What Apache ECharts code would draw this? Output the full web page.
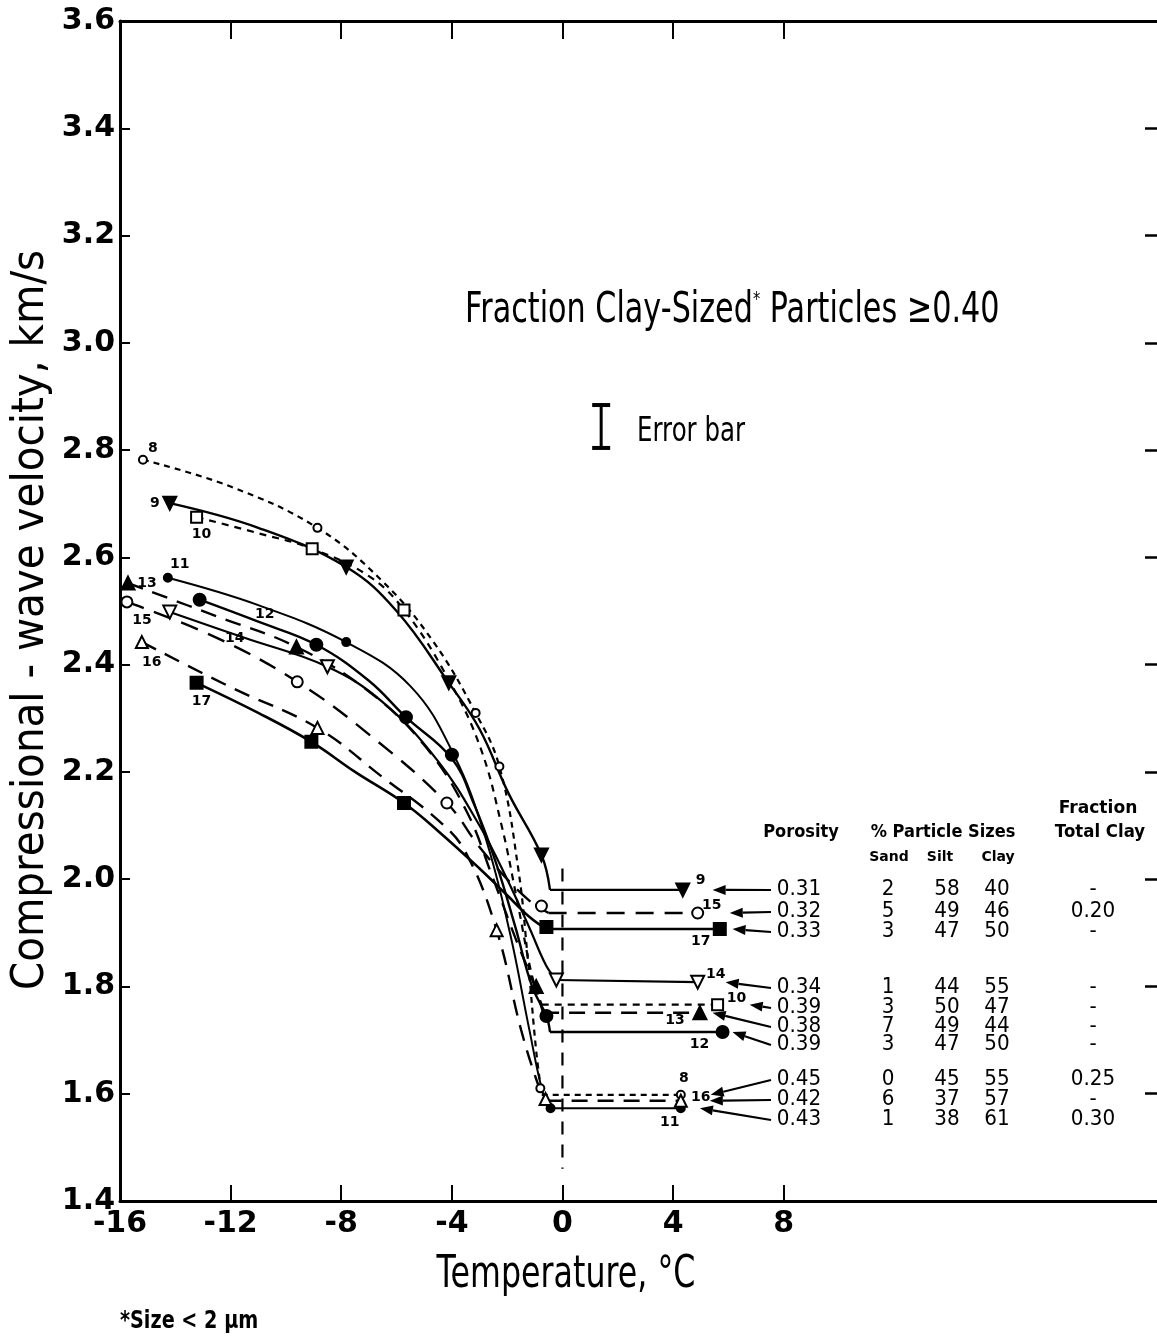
<!DOCTYPE html>
<html><head><meta charset="utf-8">
<script src="https://cdn.jsdelivr.net/npm/echarts@6/dist/echarts.min.js"></script>
<style>html,body{margin:0;padding:0;background:#fff}#c{width:1157px;height:1342px}</style>
</head><body><div id="c"></div>
<script>
// ---------------- data ----------------
const xTickValues = [-16, -12, -8, -4, 0, 4, 8];
const xMin = -16, xMax = 21.5;
const yMin = 1.4, yMax = 3.6, yStep = 0.2;

// curves: [temperature °C, velocity km/s]; last two points = plateau
const s8  = [[-15.17,2.782],[-12,2.732],[-8.86,2.655],[-6.5,2.555],[-4.7,2.445],[-3.14,2.31],[-2.28,2.21],[-1.6,2.02],[-1.25,1.85],[-0.95,1.68],[-0.75,1.598],[4.28,1.598]];
const s8Marks  = [[-15.17,2.782],[-8.86,2.655],[-3.14,2.31],[-2.28,2.21],[-0.8,1.61],[4.28,1.598]];
const s9  = [[-14.2,2.701],[-11,2.655],[-7.82,2.582],[-6,2.50],[-4.11,2.366],[-3,2.28],[-1.95,2.16],[-0.76,2.045],[-0.45,1.98],[4.35,1.98]];
const s9Marks  = [[-14.2,2.701],[-7.82,2.582],[-4.11,2.366],[-0.76,2.045],[4.35,1.98]];
const s10 = [[-13.23,2.675],[-11,2.645],[-9.05,2.616],[-7,2.565],[-5.73,2.502],[-4.2,2.38],[-3,2.25],[-2.2,2.1],[-1.6,1.95],[-1.1,1.82],[-0.75,1.766],[5.61,1.766]];
const s10Marks = [[-13.23,2.675],[-9.05,2.616],[-5.73,2.502],[5.61,1.766]];
const s11 = [[-14.27,2.562],[-11,2.511],[-7.82,2.442],[-5.5,2.36],[-3.93,2.232],[-2.8,2.08],[-1.9,1.9],[-1.2,1.72],[-0.7,1.6],[-0.43,1.573],[4.28,1.573]];
const s11Marks = [[-14.27,2.562],[-7.82,2.442],[-3.93,2.232],[-0.43,1.573],[4.28,1.573]];
const s12 = [[-13.12,2.521],[-11,2.48],[-8.9,2.437],[-7,2.37],[-5.66,2.302],[-4.0,2.225],[-3.2,2.14],[-2.4,2.03],[-1.7,1.91],[-1.1,1.80],[-0.58,1.745],[-0.45,1.715],[5.79,1.715]];
const s12Marks = [[-13.12,2.521],[-8.9,2.437],[-5.66,2.302],[-4.0,2.232],[-0.58,1.745],[5.79,1.715]];
const s13 = [[-15.71,2.552],[-12.5,2.49],[-9.62,2.433],[-7,2.35],[-5,2.25],[-3.5,2.13],[-2.5,2.0],[-1.7,1.89],[-1.0,1.80],[-0.7,1.751],[4.97,1.751]];
const s13Marks = [[-15.71,2.552],[-9.62,2.433],[-0.95,1.80],[4.97,1.751]];
const s14 = [[-14.2,2.498],[-11.5,2.45],[-8.5,2.396],[-6.5,2.33],[-4.5,2.22],[-3,2.1],[-2,2.0],[-1.2,1.91],[-0.6,1.84],[-0.22,1.812],[4.89,1.808]];
const s14Marks = [[-14.2,2.498],[-8.5,2.396],[-0.22,1.812],[4.89,1.808]];
const s15 = [[-15.75,2.517],[-12.5,2.45],[-9.59,2.368],[-7,2.27],[-4.18,2.142],[-3,2.06],[-2,2.0],[-1.2,1.96],[-0.76,1.945],[-0.5,1.937],[4.89,1.937]];
const s15Marks = [[-15.75,2.517],[-9.59,2.368],[-4.18,2.142],[-0.76,1.95],[4.89,1.937]];
const s16 = [[-15.21,2.442],[-12,2.358],[-8.86,2.282],[-6.5,2.19],[-4.5,2.11],[-3.5,2.05],[-2.38,1.905],[-1.5,1.72],[-0.9,1.62],[-0.61,1.587],[4.28,1.587]];
const s16Marks = [[-15.21,2.442],[-8.86,2.282],[-2.38,1.905],[-0.61,1.59],[4.28,1.587]];
const s17 = [[-13.23,2.366],[-11,2.31],[-9.08,2.256],[-7.5,2.2],[-5.73,2.142],[-4.5,2.09],[-3,2.02],[-2,1.97],[-1.2,1.93],[-0.58,1.907],[5.69,1.907]];
const s17Marks = [[-13.23,2.366],[-9.08,2.256],[-5.73,2.142],[-0.58,1.911],[5.69,1.907]];

const zeroLine = [[0,2.02],[0,1.46]];
const errorBar = [[1.4,2.804],[1.4,2.884]];

// table (row order top to bottom)
const tableSamples = ['9','15','17','14','10','13','12','8','16','11'];
const porosity  = ['0.31','0.32','0.33','0.34','0.39','0.38','0.39','0.45','0.42','0.43'];
const sandPct   = ['2','5','3','1','3','7','3','0','6','1'];
const siltPct   = ['58','49','47','44','50','49','47','45','37','38'];
const clayPct   = ['40','46','50','55','47','44','50','55','57','61'];
const totalClay = ['-','0.20','-','-','-','-','-','0.25','-','0.30'];

// ---------------- styling / layout ----------------
const FONT = '"DejaVu Sans", "Liberation Sans", sans-serif';
const samples = {'8':[s8,s8Marks],'9':[s9,s9Marks],'10':[s10,s10Marks],'11':[s11,s11Marks],'12':[s12,s12Marks],
  '13':[s13,s13Marks],'14':[s14,s14Marks],'15':[s15,s15Marks],'16':[s16,s16Marks],'17':[s17,s17Marks]};
const look = {
 '8':  {dash:[6,5],  w:2.2, sym:'emptyCircle',   size:8,  rot:0,   ls:[10,-11], le:[3,-16]},
 '9':  {dash:'solid',w:2.4, sym:'triangle',      size:13, rot:180, ls:[-15,0],  le:[18,-10]},
 '10': {dash:[7,6],  w:2.2, sym:'emptyRect',     size:11, rot:0,   ls:[5,17],   le:[19,-6]},
 '11': {dash:'solid',w:2.0, sym:'circle',        size:8,  rot:0,   ls:[12,-13], le:[-11,14]},
 '12': {dash:'solid',w:2.4, sym:'circle',        size:12, rot:0,   ls:[65,15],  le:[-23,12]},
 '13': {dash:[16,10],w:2.4, sym:'triangle',      size:13, rot:0,   ls:[19,0],   le:[-25,8]},
 '14': {dash:'solid',w:2.2, sym:'emptyTriangle', size:13, rot:180, ls:[65,26],  le:[18,-8]},
 '15': {dash:[18,11],w:2.4, sym:'emptyCircle',   size:11, rot:0,   ls:[15,18],  le:[14,-8]},
 '16': {dash:[16,10],w:2.4, sym:'emptyTriangle', size:12, rot:0,   ls:[10,20],  le:[20,-3]},
 '17': {dash:'solid',w:2.6, sym:'rect',          size:12, rot:0,   ls:[5,18],   le:[-19,12]}
};
const arrowGap = {'9':1.08,'15':1.16,'17':0.46,'14':1.01,'10':1.16,'13':0.46,'12':0.36,'8':1.08,'16':1.05,'11':0.69};
const rowY = [890,912,932,988,1008,1027,1045,1080,1100,1120];

const series = [];
Object.keys(samples).forEach(id => {
  const [pts, marks] = samples[id];
  const L = look[id];
  const lineStyle = {color:'#000', width:L.w, type:L.dash, opacity:1};
  series.push({type:'line', data:pts.slice(0,-1), smooth:0.4, symbol:'none', lineStyle, z:3, silent:true});
  series.push({type:'line', data:pts.slice(-2), symbol:'none', lineStyle, z:3, silent:true});
  const lab = (off) => ({show:true, formatter:id, position:'inside', offset:off, color:'#000', opacity:1,
      fontFamily:FONT, fontWeight:'bold', fontSize:14});
  series.push({type:'scatter', z:5, silent:true,
    symbol:L.sym, symbolSize:L.size, symbolRotate:L.rot,
    itemStyle:{color:'#000', borderColor:'#000', borderWidth:2, opacity:1},
    data: marks.map((p,i) => {
      const o = {value:p};
      if (i===0) o.label = lab(L.ls);
      else if (i===marks.length-1) o.label = lab(L.le);
      return o;
    })});
});
series.push({type:'line', data:zeroLine, symbol:'none', lineStyle:{color:'#000', width:2.2, type:[13,10]}, z:2, silent:true});
series.push({type:'line', data:errorBar, symbol:'rect', symbolSize:[18,4], itemStyle:{color:'#000', opacity:1}, lineStyle:{color:'#000', width:3}, z:2, silent:true});

const axisLineStyle = {onZero:false, lineStyle:{color:'#000', width:3}};
const option = {
  animation:false,
  backgroundColor:'#fff',
  grid:{left:120, top:21, right:-4, bottom:141, containLabel:false},
  xAxis:[
    {type:'value', min:xMin, max:xMax, position:'bottom', splitLine:{show:false},
     axisLine:axisLineStyle,
     axisTick:{inside:true, length:16, lineStyle:{color:'#000', width:2}, customValues:xTickValues},
     axisLabel:{customValues:xTickValues, color:'#000', fontFamily:FONT, fontSize:30, fontWeight:'bold', margin:8,
       formatter:v => v>8 ? '' : String(v)}},
    {type:'value', min:xMin, max:xMax, position:'top', splitLine:{show:false},
     axisLine:axisLineStyle,
     axisTick:{inside:true, length:18, lineStyle:{color:'#000', width:2}, customValues:xTickValues.slice(1)},
     axisLabel:{show:false}}
  ],
  yAxis:[
    {type:'value', min:yMin, max:yMax, interval:yStep, position:'left', splitLine:{show:false},
     axisLine:axisLineStyle,
     axisTick:{inside:true, length:10, lineStyle:{color:'#000', width:2}},
     axisLabel:{color:'#000', fontFamily:FONT, fontSize:30, fontWeight:'bold', margin:5, formatter:v => v.toFixed(1)}},
    {type:'value', min:yMin, max:yMax, interval:yStep, position:'right', splitLine:{show:false},
     axisLine:{show:false, onZero:false},
     axisTick:{inside:true, length:12, lineStyle:{color:'#000', width:2.5}},
     axisLabel:{show:false}}
  ],
  series
};

const chart = echarts.init(document.getElementById('c'));
chart.setOption(option);

// ---------------- annotations ----------------
const g = [];
function txt(text, x, y, size, opts) {
  opts = opts || {};
  g.push({type:'text', x, y, scaleX:opts.sx||1, rotation:opts.rot||0, z:10, silent:true,
    style:{text, fill:'#000', font:(opts.bold?'bold ':'')+size+'px '+FONT,
      align:opts.align||'center', verticalAlign:'middle', rich:opts.rich}});
}
txt('{a|Fraction Clay-Sized}{s|*}{a| Particles ≥0.40}', 465, 311, 42,
   {align:'left', sx:0.72, rich:{a:{fontSize:42, fontFamily:FONT, fill:'#000'}, s:{fontSize:20, fontFamily:FONT, verticalAlign:'top', padding:[0,0,22,0]}}});
txt('Error bar', 637, 432, 34, {align:'left', sx:0.72});
txt('Temperature, °C', 566, 1276, 44, {sx:0.72});
txt('Compressional - wave velocity, km/s', 32, 620, 44, {sx:0.92, rot:Math.PI/2});
txt('*Size < 2 µm', 120, 1322, 24, {align:'left', sx:0.8, bold:true});

// table headers
txt('Fraction', 1098, 808, 18, {bold:true, sx:0.95});
txt('Porosity', 801, 832, 18, {bold:true, sx:0.9});
txt('% Particle Sizes', 943, 832, 18, {bold:true, sx:0.9});
txt('Total Clay', 1100, 832, 18, {bold:true, sx:0.92});
txt('Sand', 889, 857, 14, {bold:true});
txt('Silt', 940, 857, 14, {bold:true});
txt('Clay', 998, 857, 14, {bold:true});
tableSamples.forEach((id, i) => {
  const y = rowY[i];
  txt(porosity[i], 799, y, 21, {sx:0.95});
  txt(sandPct[i], 888, y, 21, {sx:0.95});
  txt(siltPct[i], 947, y, 21, {sx:0.95});
  txt(clayPct[i], 997, y, 21, {sx:0.95});
  txt(totalClay[i], 1093, y, 21, {sx:0.95});
  const pts = samples[id][0];
  const end = pts[pts.length-1];
  const head = chart.convertToPixel({gridIndex:0}, [end[0]+arrowGap[id], end[1]]);
  const tail = [771, y];
  const dx = tail[0]-head[0], dy = tail[1]-head[1];
  const len = Math.hypot(dx,dy), ux = dx/len, uy = dy/len;
  const base = [head[0]+ux*13, head[1]+uy*13];
  g.push({type:'line', z:10, silent:true, shape:{x1:tail[0], y1:tail[1], x2:base[0], y2:base[1]}, style:{stroke:'#000', lineWidth:2.2}});
  g.push({type:'polygon', z:10, silent:true, shape:{points:[head, [base[0]-uy*5, base[1]+ux*5], [base[0]+uy*5, base[1]-ux*5]]}, style:{fill:'#000'}});
});
chart.setOption({graphic:g});
</script></body></html>
